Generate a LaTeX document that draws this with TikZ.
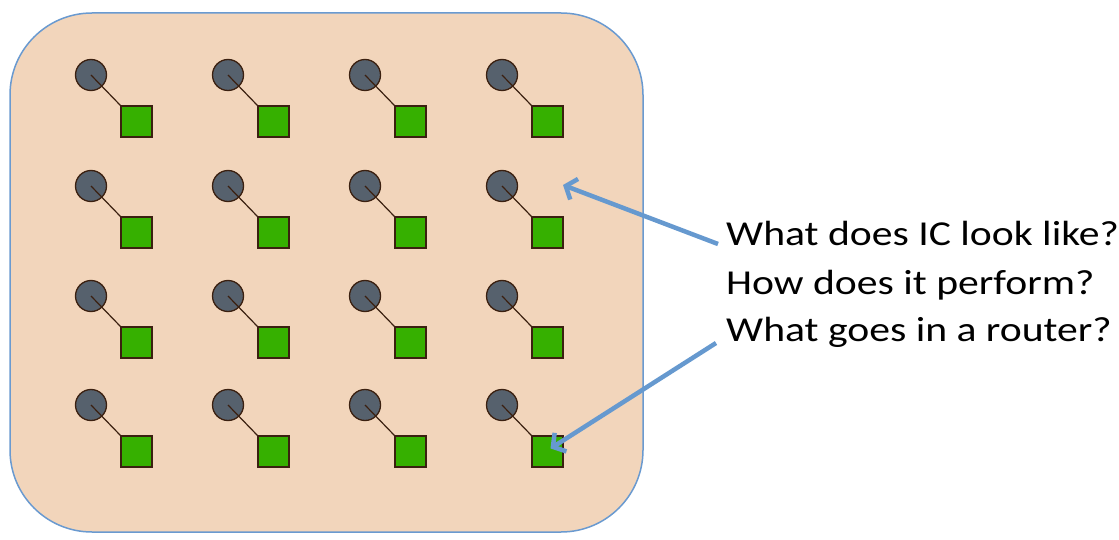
\documentclass[tikz,border=0pt]{standalone}
\usepackage{fontspec}
\setmainfont{Carlito}
\usetikzlibrary{arrows.meta,calc}
\definecolor{peach}{HTML}{F2D5BB}
\definecolor{frameblue}{HTML}{6A9AD0}
\definecolor{arrowblue}{HTML}{6699CF}
\definecolor{corefill}{HTML}{56616D}
\definecolor{routerfill}{HTML}{36B000}
\definecolor{edge}{HTML}{3B2010}
\tikzset{
  x=1pt,y=-1pt,
  chip/.style={draw=frameblue,line width=1.5pt,fill=peach,rounded corners=82pt},
  core/.style={circle,draw=edge,line width=1.3pt,fill=corefill,minimum size=31pt,inner sep=0pt},
  router/.style={rectangle,draw=edge,line width=1.3pt,fill=routerfill,minimum size=31pt,inner sep=0pt},
  link/.style={draw=edge,line width=1.2pt},
  question/.style={anchor=base west,font=\fontsize{35}{40}\selectfont,inner sep=0pt},
  callout/.style={draw=arrowblue,line width=4.5pt,-{Straight Barb[length=9pt,width=22pt,line width=4.5pt]}}
}
\newcommand{\wide}[1]{\scalebox{1.19}[1]{#1}}
\begin{document}
\begin{tikzpicture}
\useasboundingbox (0,0) rectangle (1119,540);
\draw[chip] (10,13) rectangle (643,532);
\foreach \c/\x in {1/91,2/228,3/365,4/502}{
  \foreach \r/\y in {1/75,2/186,3/296,4/405}{
    \node[router] (s\r\c) at (\x+45.5,\y+46.5) {};
    \node[core] (c\r\c) at (\x,\y) {};
    \draw[link] (c\r\c.center) -- (s\r\c.north west);
  }
}
\node[question] (q1) at (726,245) {\wide{What does IC look like?}};
\node[question] (q2) at (726,294) {\wide{How does it perform?}};
\node[question] (q3) at (726,341) {\wide{What goes in a router?}};
\coordinate (t1) at (563,185);
\draw[callout] (718,244) -- (t1);
\draw[callout] (716,343) -- ($(s44.center)+(3,-3)$);
\end{tikzpicture}
\end{document}
